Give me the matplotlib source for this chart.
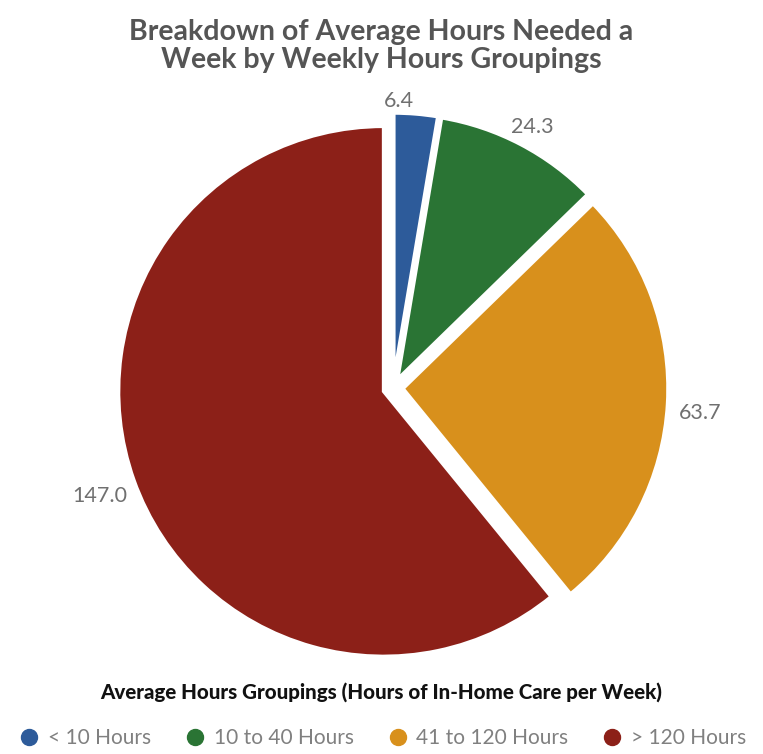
import numpy as np
import matplotlib
matplotlib.use("Agg")
import matplotlib.pyplot as plt
from matplotlib.lines import Line2D

plt.rcParams['font.family'] = ['Lato', 'DejaVu Sans']

# data
groups = ['< 10 Hours', '10 to 40 Hours', '41 to 120 Hours', '> 120 Hours']
avg_hours = [6.4, 24.3, 63.7, 147.0]
colors = ['#2d5b9a', '#2a7434', '#d8901c', '#8c2018']

title = 'Breakdown of Average Hours Needed a\nWeek by Weekly Hours Groupings'
legend_title = 'Average Hours Groupings (Hours of In-Home Care per Week)'

W, H = 763, 754
fig = plt.figure(figsize=(W / 100, H / 100), dpi=100)

# pie centre ~ (393, 388) px, radius ~265 px
cx, cy, r, half = 393, 388, 265, 300
ax = fig.add_axes([(cx - half) / W, 1 - (cy + half) / H, 2 * half / W, 2 * half / H])
lim = half / r

explode = [10 / r] * len(avg_hours)  # every slice pulled out a little
wedges, _ = ax.pie(avg_hours, colors=colors, startangle=90, counterclock=False,
                   explode=explode, radius=1.0,
                   wedgeprops=dict(edgecolor='white', linewidth=2.5))
ax.set_xlim(-lim, lim)
ax.set_ylim(-lim, lim)
ax.set_aspect('equal')
ax.axis('off')

# value labels, placed just outside each slice
nudge = [-3.8, -3.4, 1.7, -2.5]  # small angle shifts (deg) to mimic the original placement
total = sum(avg_hours)
start = 0.0
for v, e, nd in zip(avg_hours, explode, nudge):
    mid = start + v / total * 360 / 2
    start += v / total * 360
    a = np.deg2rad(mid)
    ox, oy = e * np.sin(a), e * np.cos(a)
    b = np.deg2rad(mid + nd)
    d = 1.045
    x, y = ox + d * np.sin(b), oy + d * np.cos(b)
    if abs(np.sin(b)) < 0.15:
        ha = 'center'
    elif np.sin(b) > 0:
        ha = 'left'
    else:
        ha = 'right'
    ax.text(x, y, f'{v:.1f}', ha=ha, va='center', fontsize=15.5, color='#707070')

fig.text(0.5, 1 - 46 / H, title, ha='center', va='center', fontsize=20.5,
         fontweight='bold', color='#555555', linespacing=1.12)

fig.text(0.5, 1 - 692 / H, legend_title, ha='center', va='center',
         fontsize=14.8, fontweight='black', color='#111111')

handles = [Line2D([0], [0], marker='o', linestyle='', markersize=11.5,
                  markerfacecolor=c, markeredgecolor=c) for c in colors]
leg = fig.legend(handles, groups, loc='center', bbox_to_anchor=(0.5, 1 - 738 / H),
                 ncol=4, frameon=False, prop={'size': 15},
                 handletextpad=0.3, columnspacing=1.5, handlelength=1.2,
                 borderpad=0, borderaxespad=0)
for t in leg.get_texts():
    t.set_color('#808080')

fig.savefig('out.png', dpi=100)
